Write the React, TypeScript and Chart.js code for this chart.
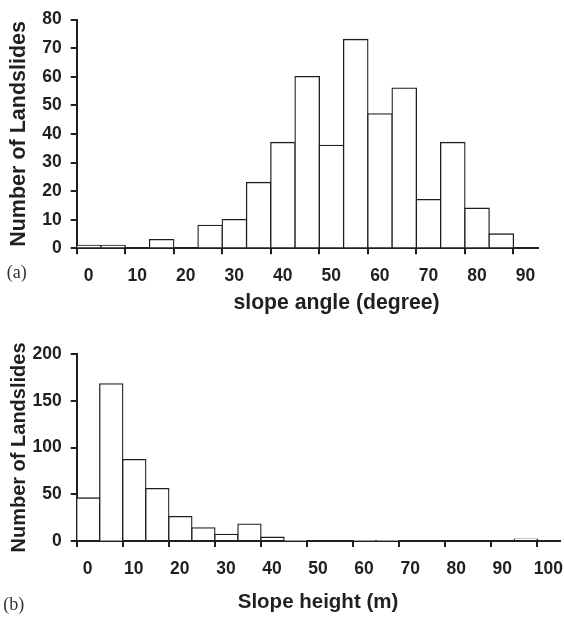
import React, { useEffect, useRef } from "react";
import { Chart, registerables } from "chart.js";

Chart.register(...registerables);

// ---------- data ----------
const BIN_WIDTH = 5;

// (a) slope angle histogram (bin starts in degrees)
const angleBinStarts = [0, 5, 10, 15, 20, 25, 30, 35, 40, 45, 50, 55, 60, 65, 70, 75, 80, 85];
const angleCounts = [1, 1, 0, 3, 0, 8, 10, 23, 37, 60, 36, 73, 47, 56, 17, 37, 14, 5];
const angleXMax = 95;
const angleXStep = 10;
const angleYMax = 80;
const angleYStep = 10;

// (b) slope height histogram (bin starts in metres)
const heightBinStarts = [0, 5, 10, 15, 20, 25, 30, 35, 40, 45, 50, 55, 60, 65, 70, 75, 80, 85, 90, 95];
const heightCounts = [46, 168, 87, 56, 26, 14, 7, 18, 4, 1, 0, 0, 1, 1, 0, 0, 0, 0, 0, 2];
const heightXMax = 105;
const heightXStep = 10;
const heightYMax = 200;
const heightYStep = 50;

const yAxisTitle = "Number of Landslides";
const angleXTitle = "slope angle (degree)";
const heightXTitle = "Slope height (m)";
const angleLetter = "(a)";
const heightLetter = "(b)";

// ---------- style ----------
const W = 564;
const FONT = '"Liberation Sans", Arial, Helvetica, sans-serif';
const SERIF = '"Liberation Serif", "Times New Roman", serif';
const INK = "#231f20";

type Layout = {
  height: number;
  top: number;
  bottom: number;
  left: number;
  right: number;
  yTitleSize: number;
  yTitlePad: number;
  xLabelOffset: number;
  xLabelPadding: number;
  xTitle: { text: string; x: number; y: number; size: number };
  letter: { text: string; x: number; y: number };
};

function buildConfig(
  binStarts: number[],
  counts: number[],
  xMax: number,
  xStep: number,
  yMax: number,
  yStep: number,
  layout: Layout
): any {
  const data = binStarts.map((s, i) => ({ x: s + BIN_WIDTH / 2, y: counts[i] }));
  const tickFont = { family: FONT, size: 17.5, weight: "bold" as const };
  const textPlugin = {
    id: "panelText",
    afterDraw(chart: any) {
      const ctx = chart.ctx as CanvasRenderingContext2D;
      ctx.save();
      ctx.fillStyle = INK;
      ctx.textBaseline = "alphabetic";
      ctx.textAlign = "center";
      ctx.font = `bold ${layout.xTitle.size}px ${FONT}`;
      ctx.fillText(layout.xTitle.text, layout.xTitle.x, layout.xTitle.y);
      ctx.fillStyle = "#333";
      ctx.textAlign = "left";
      ctx.font = `18px ${SERIF}`;
      ctx.fillText(layout.letter.text, layout.letter.x, layout.letter.y);
      ctx.restore();
    },
  };
  return {
    type: "bar",
    data: {
      datasets: [
        {
          data,
          backgroundColor: "#ffffff",
          borderColor: "#1e1e1e",
          borderWidth: 1.3,
          inflateAmount: 0.65,
          borderSkipped: "start",
          barPercentage: 1,
          categoryPercentage: 1,
        },
      ],
    },
    options: {
      responsive: false,
      animation: false,
      layout: { padding: { top: layout.top, right: W - layout.right, left: 0, bottom: 0 } },
      plugins: { legend: { display: false }, tooltip: { enabled: false } },
      scales: {
        x: {
          type: "linear",
          min: 0,
          max: xMax,
          offset: false,
          z: 1,
          afterFit: (s: any) => {
            s.height = layout.height - layout.bottom;
          },
          grid: {
            offset: false,
            drawOnChartArea: false,
            drawTicks: true,
            tickLength: 6,
            lineWidth: 2,
            color: INK,
          },
          border: { display: true, color: INK, width: 2 },
          ticks: {
            stepSize: xStep,
            includeBounds: false,
            autoSkip: false,
            maxRotation: 0,
            minRotation: 0,
            labelOffset: layout.xLabelOffset,
            padding: layout.xLabelPadding,
            color: INK,
            font: tickFont,
          },
        },
        y: {
          type: "linear",
          min: 0,
          max: yMax,
          z: 1,
          afterFit: (s: any) => {
            s.width = layout.left;
          },
          grid: {
            drawOnChartArea: false,
            drawTicks: true,
            tickLength: 6,
            lineWidth: 2,
            color: INK,
          },
          border: { display: true, color: INK, width: 2 },
          ticks: {
            stepSize: yStep,
            padding: 9,
            color: INK,
            font: tickFont,
          },
          title: {
            display: true,
            text: yAxisTitle,
            color: INK,
            font: { family: FONT, size: layout.yTitleSize, weight: "bold" },
            padding: { top: layout.yTitlePad, bottom: 0 },
          },
        },
      },
    },
    plugins: [textPlugin],
  };
}

const layoutA: Layout = {
  height: 322,
  top: 13.3,
  bottom: 248.3,
  left: 76.7,
  right: 537.7,
  yTitleSize: 21.5,
  yTitlePad: 6.3,
  xLabelOffset: 12,
  xLabelPadding: 11,
  xTitle: { text: angleXTitle, x: 336.5, y: 308.5, size: 21.2 },
  letter: { text: angleLetter, x: 6.7, y: 278 },
};

const layoutB: Layout = {
  height: 295,
  top: 32,
  bottom: 219,
  left: 76.7,
  right: 563,
  yTitleSize: 20,
  yTitlePad: 7.2,
  xLabelOffset: 11,
  xLabelPadding: 12,
  xTitle: { text: heightXTitle, x: 318, y: 286.3, size: 20.5 },
  letter: { text: heightLetter, x: 3.3, y: 287.5 },
};

function Panel({ config, height, top }: { config: any; height: number; top: number }) {
  const ref = useRef<HTMLCanvasElement | null>(null);
  useEffect(() => {
    if (!ref.current) return;
    const chart = new Chart(ref.current, config);
    return () => chart.destroy();
  }, [config]);
  return (
    <canvas
      ref={ref}
      width={W}
      height={height}
      style={{ position: "absolute", left: 0, top, width: W, height, display: "block" }}
    />
  );
}

const configA = buildConfig(angleBinStarts, angleCounts, angleXMax, angleXStep, angleYMax, angleYStep, layoutA);
const configB = buildConfig(heightBinStarts, heightCounts, heightXMax, heightXStep, heightYMax, heightYStep, layoutB);

export default function App() {
  return (
    <div style={{ position: "absolute", left: 0, top: 0, width: W, height: 617, background: "#fff" }}>
      <Panel config={configA} height={layoutA.height} top={0} />
      <Panel config={configB} height={layoutB.height} top={layoutA.height} />
    </div>
  );
}
